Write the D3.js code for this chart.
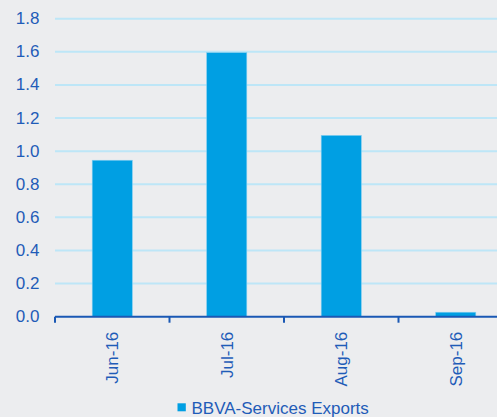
<!DOCTYPE html>
<html>
<head>
<meta charset="utf-8">
<script src="https://cdn.jsdelivr.net/npm/d3@7"></script>
<style>
  html, body { margin: 0; padding: 0; background: #ecedef; }
  svg { display: block; font-family: "Liberation Sans", Arial, sans-serif; }
</style>
</head>
<body>
<svg width="497" height="417"></svg>
<script>
// data
const months = ["Jun-16", "Jul-16", "Aug-16", "Sep-16"];
const exportsVal = [0.945, 1.595, 1.095, 0.027];
const yTicks = [0, 0.2, 0.4, 0.6, 0.8, 1.0, 1.2, 1.4, 1.6, 1.8];
const seriesName = "BBVA-Services Exports";

const svg = d3.select("svg");
const plotLeft = 55, plotRight = 513, plotTop = 18.7, plotBottom = 316.7;

const x = d3.scaleBand()
    .domain(months)
    .range([plotLeft, plotRight])
    .paddingInner(0.65)
    .paddingOuter(0.325);

const y = d3.scaleLinear()
    .domain([0, 1.8])
    .range([plotBottom, plotTop]);

// grid lines
svg.append("g")
    .selectAll("line")
    .data(yTicks.filter(d => d > 0))
    .enter()
    .append("line")
    .attr("x1", plotLeft)
    .attr("x2", 497)
    .attr("y1", d => y(d))
    .attr("y2", d => y(d))
    .attr("stroke", "#bde6f7")
    .attr("stroke-width", 2);

// y labels
svg.append("g")
    .selectAll("text")
    .data(yTicks)
    .enter()
    .append("text")
    .attr("x", 39.5)
    .attr("y", d => y(d) + 5.5)
    .attr("text-anchor", "end")
    .attr("fill", "#1f5cb8")
    .style("font-size", "17px")
    .text(d => d3.format(".1f")(d));

// bars
svg.append("g")
    .selectAll("rect")
    .data(exportsVal)
    .enter()
    .append("rect")
    .attr("x", (d, i) => x(months[i]))
    .attr("y", d => y(d))
    .attr("width", x.bandwidth())
    .attr("height", d => plotBottom - y(d))
    .attr("fill", "#009fe3")
    .attr("stroke", "#7fcdf0")
    .attr("stroke-width", 0.6);

// x axis
const step = x.step();
const xAxis = svg.append("g");
xAxis.append("line")
    .attr("x1", plotLeft)
    .attr("x2", 497)
    .attr("y1", plotBottom)
    .attr("y2", plotBottom)
    .attr("stroke", "#1a58b4")
    .attr("stroke-width", 2);
xAxis.selectAll("line.tick")
    .data(d3.range(months.length + 1))
    .enter()
    .append("line")
    .attr("class", "tick")
    .attr("x1", i => plotLeft + i * step)
    .attr("x2", i => plotLeft + i * step)
    .attr("y1", plotBottom)
    .attr("y2", plotBottom + 6)
    .attr("stroke", "#1a58b4")
    .attr("stroke-width", 2);

xAxis.selectAll("text")
    .data(months)
    .enter()
    .append("text")
    .attr("transform", d => `translate(${x(d) + x.bandwidth() / 2 + 6},${plotBottom + 15}) rotate(-90)`)
    .attr("text-anchor", "end")
    .attr("fill", "#1f5cb8")
    .style("font-size", "17px")
    .text(d => d);

// legend
svg.append("rect")
    .attr("x", 177.5)
    .attr("y", 403.3)
    .attr("width", 8.3)
    .attr("height", 8)
    .attr("fill", "#009fe3");
svg.append("text")
    .attr("x", 191.5)
    .attr("y", 414.3)
    .attr("fill", "#1f5cb8")
    .style("font-size", "17px")
    .text(seriesName);
</script>
</body>
</html>
